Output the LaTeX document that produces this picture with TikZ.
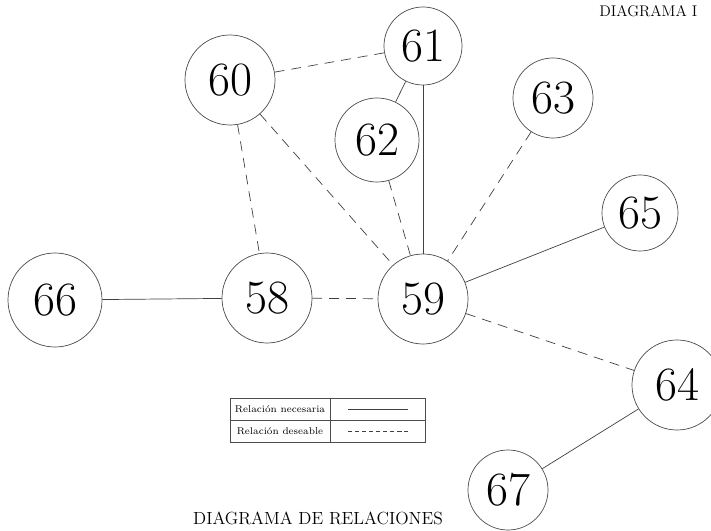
\documentclass[tikz,border=0pt]{standalone}
\usepackage{tikz}
\usetikzlibrary{positioning}
\usepackage{amsmath}

\begin{document}
\begin{tikzpicture}[x=0.025cm,y=-0.025cm,
        area/.style={draw=black!70,line width=0.5pt,circle,inner sep=0pt,font=\fontsize{34}{40}\selectfont},
        nec/.style={draw=black!75,line width=0.5pt},
        des/.style={draw=black!75,line width=0.5pt,dash pattern=on 7pt off 5pt},
        celda/.style={draw=black!70,line width=0.4pt,minimum height=0.55cm,inner sep=0pt}]
        \useasboundingbox (0,0) rectangle (711,531);
        \node[area,minimum size=2.25cm] (n60) at (230,80) {60};
        \node[area,minimum size=1.95cm] (n61) at (423,46) {61};
        \node[area,minimum size=2.1cm] (n62) at (377,140) {62};
        \node[area,minimum size=2.0cm] (n63) at (553,98) {63};
        \node[area,minimum size=1.9cm] (n65) at (640,213) {65};
        \node[area,minimum size=2.35cm] (n66) at (55,300) {66};
        \node[area,minimum size=2.25cm] (n58) at (267,298) {58};
        \node[area,minimum size=2.25cm] (n59) at (423,299) {59};
        \node[area,minimum size=2.25cm] (n64) at (677,385) {64};
        \node[area,minimum size=2.0cm] (n67) at (508,490) {67};
        % relaciones necesarias
        \draw[nec] (n61) -- (n62);
        \draw[nec] (n61) -- (n59);
        \draw[nec] (n65) -- (n59);
        \draw[nec] (n66) -- (n58);
        \draw[nec] (n64) -- (n67);
        % relaciones deseables
        \draw[des] (n60) -- (n61);
        \draw[des] (n60) -- (n58);
        \draw[des] (n60) -- (n59);
        \draw[des] (n62) -- (n59);
        \draw[des] (n63) -- (n59);
        \draw[des] (n58) -- (n59);
        \draw[des] (n59) -- (n64);
        % leyenda
        \node[celda,minimum width=2.5cm,font=\fontsize{7}{8}\selectfont] (txtnec) at (280,409) {Relación necesaria};
        \node[celda,minimum width=2.5cm,font=\fontsize{7}{8}\selectfont,below=0pt of txtnec] (txtdes) {Relación deseable};
        \node[celda,minimum width=2.375cm,right=0pt of txtnec] (linnec) {};
        \node[celda,minimum width=2.375cm,right=0pt of txtdes] (lindes) {};
        \draw[nec] ([xshift=-0.75cm]linnec.center) -- ([xshift=0.75cm]linnec.center);
        \draw[nec,dash pattern=on 3pt off 2pt] ([xshift=-0.75cm]lindes.center) -- ([xshift=0.75cm]lindes.center);
        % titulos
        \node[anchor=base west,inner sep=0pt,font=\fontsize{11}{13}\selectfont] (sup) at (599,17) {DIAGRAMA I};
        \node[anchor=base,font=\fontsize{12.5}{15}\selectfont] (titulo) at (318,524) {DIAGRAMA DE RELACIONES};
    \end{tikzpicture}
\end{document}
